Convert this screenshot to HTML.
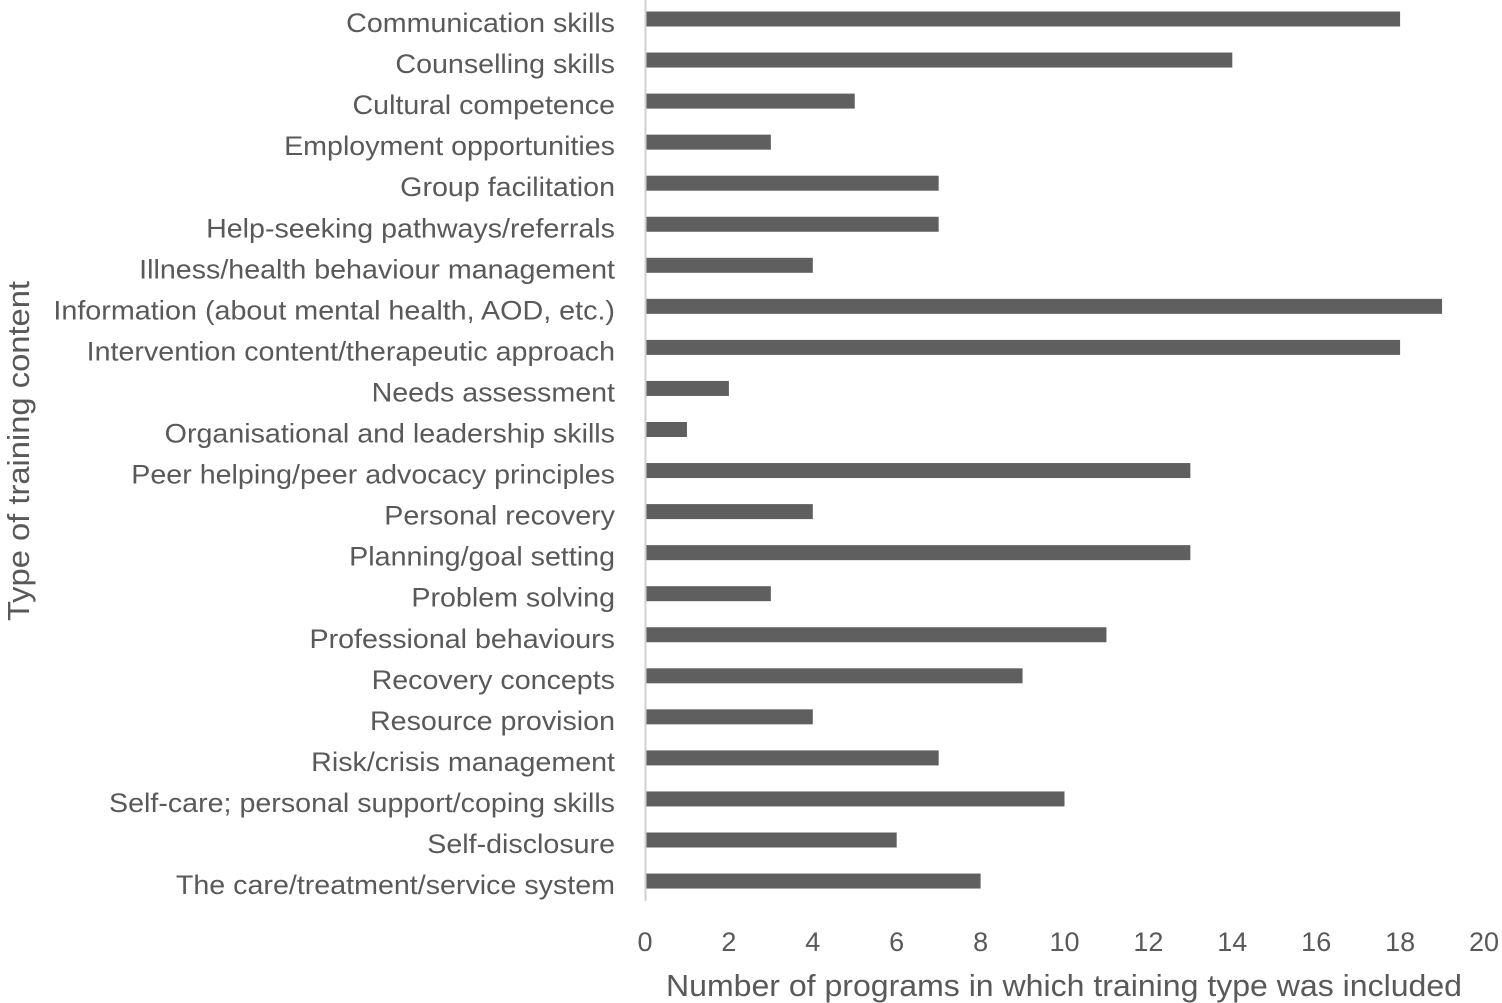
<!DOCTYPE html>
<html><head><meta charset="utf-8"><style>
html,body{margin:0;padding:0;background:#fff;}
svg{display:block;}
text{font-family:"Liberation Sans",sans-serif;fill:#595959;}
</style></head><body>
<svg id="chart" width="1502" height="1003" viewBox="0 0 1502 1003" xmlns="http://www.w3.org/2000/svg">
<g id="bars"></g>
<g id="ylabels"></g>
<g id="xticks"></g>
<line x1="645.5" y1="0" x2="645.5" y2="901" stroke="#d0d0d0" stroke-width="2"/>
<text x="1064" y="996" text-anchor="middle" font-size="31" textLength="796" lengthAdjust="spacingAndGlyphs">Number of programs in which training type was included</text>
<text transform="translate(29,451) rotate(-90)" text-anchor="middle" font-size="31" textLength="340" lengthAdjust="spacingAndGlyphs">Type of training content</text>
</svg>
<script>
const categories = ["Communication skills","Counselling skills","Cultural competence","Employment opportunities","Group facilitation","Help-seeking pathways/referrals","Illness/health behaviour management","Information (about mental health, AOD, etc.)","Intervention content/therapeutic approach","Needs assessment","Organisational and leadership skills","Peer helping/peer advocacy principles","Personal recovery","Planning/goal setting","Problem solving","Professional behaviours","Recovery concepts","Resource provision","Risk/crisis management","Self-care; personal support/coping skills","Self-disclosure","The care/treatment/service system"];
const values = [18,14,5,3,7,7,4,19,18,2,1,13,4,13,3,11,9,4,7,10,6,8];
const tickValues = [0,2,4,6,8,10,12,14,16,18,20];
const NS = "http://www.w3.org/2000/svg";
const x0 = 645, xMax = 20, xPix = 839;
function xScale(v){ return x0 + v / xMax * xPix; }
function yScale(i){ return 19 + i * 41.05; }
const bars = document.getElementById('bars');
const labels = document.getElementById('ylabels');
const ticks = document.getElementById('xticks');
const cv = document.createElement('canvas').getContext('2d');
cv.font = '25px "Liberation Sans"';
categories.forEach((c,i)=>{
  const r = document.createElementNS(NS,'rect');
  
  
  r.setAttribute('x', xScale(0)+1);
  r.setAttribute('y', yScale(i)-7.5);
  r.setAttribute('width', Math.max(0, xScale(values[i])-xScale(0)-1));
  r.setAttribute('height', 15);
  r.setAttribute('fill','#5f5f5f');
  bars.appendChild(r);
  const t = document.createElementNS(NS,'text');
  
  
  t.setAttribute('x', 615);
  t.setAttribute('y', yScale(i)+13);
  t.setAttribute('text-anchor','end');
  t.setAttribute('font-size','27');
  const w = cv.measureText(c).width * 1.145;
  t.setAttribute('textLength', w.toFixed(1));
  t.setAttribute('lengthAdjust','spacingAndGlyphs');
  t.textContent = c;
  labels.appendChild(t);
});
tickValues.forEach(v=>{
  const t = document.createElementNS(NS,'text');
  
  
  t.setAttribute('x', xScale(v));
  t.setAttribute('y', 951);
  t.setAttribute('text-anchor','middle');
  t.setAttribute('font-size','27');
  t.textContent = v;
  ticks.appendChild(t);
});
</script>
</body></html>
